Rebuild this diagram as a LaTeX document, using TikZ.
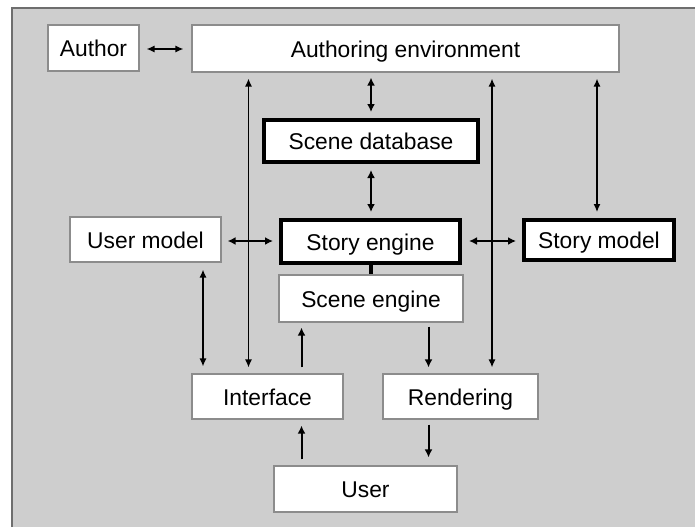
\documentclass[tikz,border=0pt]{standalone}
\usepackage{fontspec}
\setmainfont{Liberation Sans}
\usetikzlibrary{arrows.meta}
\definecolor{bggray}{HTML}{CECECE}
\definecolor{edgegray}{HTML}{8C8C8C}
\definecolor{framegray}{HTML}{6E6E6E}
\begin{document}
\begin{tikzpicture}[x=1pt,y=-1pt,
  every node/.style={font=\fontsize{22.8}{26}\selectfont, inner sep=0pt, align=center, text height=17pt, text depth=-1pt},
  plainbox/.style={draw=edgegray, line width=1.2pt, fill=white},
  thickbox/.style={draw=black, line width=4pt, fill=white},
  conn/.style={line width=1.3pt, -{Latex[length=8pt,width=7pt]}},
  bconn/.style={line width=1.3pt, {Latex[length=8pt,width=7pt]}-{Latex[length=8pt,width=7pt]}},
  fatconn/.style={line width=2pt, {Latex[length=8pt,width=8pt]}-{Latex[length=8pt,width=8pt]}},
  fatone/.style={line width=2pt, -{Latex[length=8pt,width=8pt]}},
  gapped/.style={shorten <=6pt, shorten >=6pt}
]
\useasboundingbox (0,0) rectangle (695,527);
% background panel
\fill[bggray] (11,8) rectangle (695,527);
\draw[framegray, line width=2pt] (11.5,527) -- (11.5,8) -- (695,8);

% nodes
\node[plainbox, minimum width=91pt, minimum height=46pt] (author) at (93.5,48) {Author};
\node[plainbox, minimum width=427pt, minimum height=47pt] (authenv) at (405.5,48.5) {Authoring environment};
\node[thickbox, minimum width=214pt, minimum height=42pt] (scenedb) at (371,141) {Scene database};
\node[plainbox, minimum width=151pt, minimum height=45pt] (usermodel) at (145.5,239.5) {User model};
\node[thickbox, minimum width=179pt, minimum height=43pt] (storyengine) at (370.5,241.5) {Story engine};
\node[thickbox, minimum width=150pt, minimum height=40pt] (storymodel) at (599,240) {Story model};
\node[plainbox, minimum width=184pt, minimum height=47pt] (sceneengine) at (371,298.5) {Scene engine};
\node[plainbox, minimum width=151pt, minimum height=45pt] (interface) at (267.5,396.5) {Interface};
\node[plainbox, minimum width=155pt, minimum height=45pt] (rendering) at (460.5,396.5) {Rendering};
\node[plainbox, minimum width=183pt, minimum height=46pt] (user) at (365.5,489) {User};

% helper x positions
\coordinate (xa) at (203,0);
\coordinate (xb) at (248.5,0);
\coordinate (xc) at (301.5,0);
\coordinate (xd) at (371,0);
\coordinate (xe) at (428.5,0);
\coordinate (xf) at (492,0);
\coordinate (xg) at (597,0);
\coordinate (ya) at (0,49);
\coordinate (yb) at (0,241);

% connectors
\draw[bconn, shorten <=7pt, shorten >=8pt] (author.east |- ya) -- (authenv.west |- ya);
\draw[fatconn, shorten <=5pt, shorten >=6pt] (authenv.south -| xd) -- (scenedb.north -| xd);
\draw[fatconn, shorten <=6pt, shorten >=6pt] (scenedb.south -| xd) -- (storyengine.north -| xd);
\draw[bconn, gapped] (authenv.south -| xb) -- (interface.north -| xb);
\draw[bconn, gapped] (authenv.south -| xf) -- (rendering.north -| xf);
\draw[bconn, gapped] (authenv.south -| xg) -- (storymodel.north -| xg);
\draw[fatconn, gapped] (usermodel.east |- yb) -- (storyengine.west |- yb);
\draw[fatconn, shorten <=7pt, shorten >=6pt] (storyengine.east |- yb) -- (storymodel.west |- yb);
\draw[line width=4pt] (storyengine.south -| xd) -- (sceneengine.north -| xd);
\draw[bconn, shorten <=7pt, shorten >=7pt] (usermodel.south -| xa) -- (interface.north -| xa);
\draw[fatone, shorten <=6pt, shorten >=5pt] (interface.north -| xc) -- (sceneengine.south -| xc);
\draw[fatone, shorten <=4pt, shorten >=6pt] (sceneengine.south -| xe) -- (rendering.north -| xe);
\draw[fatone, shorten <=6pt, shorten >=6pt] (user.north -| xc) -- (interface.south -| xc);
\draw[fatone, shorten <=5pt, shorten >=8pt] (rendering.south -| xe) -- (user.north -| xe);
\end{tikzpicture}
\end{document}
